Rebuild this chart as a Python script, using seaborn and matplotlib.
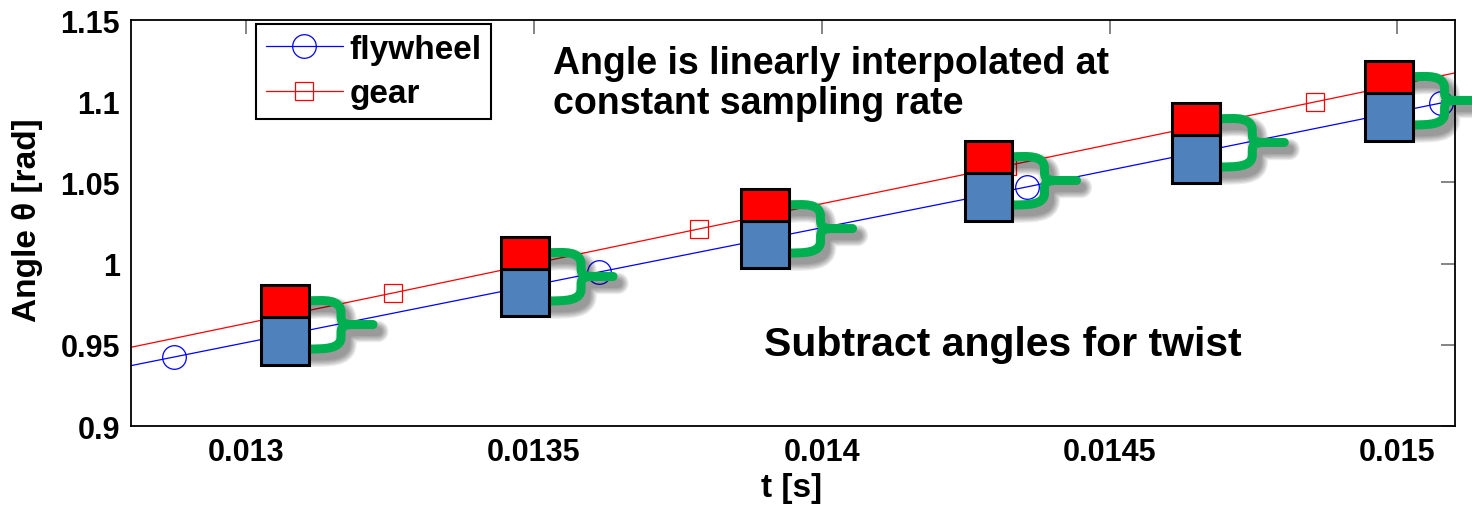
import numpy as np
import pandas as pd
import matplotlib
matplotlib.use("Agg")
import matplotlib.pyplot as plt
import matplotlib.transforms as mtransforms
import matplotlib.patheffects as pe
from matplotlib.path import Path
from matplotlib.patches import PathPatch
import seaborn as sns

# Sampled encoder angles
fly_t = [0.012139, 0.012875, 0.013613, 0.014356, 0.015076, 0.015809]
fly_angle = [0.8902, 0.9425, 0.9948, 1.0472, 1.0989, 1.1510]
gear_t = [0.012720, 0.013255, 0.013786, 0.014321, 0.014856, 0.015391]
gear_angle = [0.9426, 0.9819, 1.0213, 1.0602, 1.0995, 1.1388]

# Interpolated angles at constant sampling instants (stacked blocks)
block_t = [0.013026, 0.013443, 0.013859, 0.014248, 0.014609, 0.014943]
block_gear = [0.9868, 1.0164, 1.0459, 1.0755, 1.0989, 1.1248]
block_fly = [0.9671, 0.9967, 1.0262, 1.0558, 1.0792, 1.1050]
block_base = [0.9376, 0.9677, 0.9973, 1.0262, 1.0496, 1.0755]

x_ticks = [0.013, 0.0135, 0.014, 0.0145, 0.015]
x_tick_labels = ["0.013", "0.0135", "0.014", "0.0145", "0.015"]
y_ticks = [0.9, 0.95, 1.0, 1.05, 1.1, 1.15]
y_tick_labels = ["0.9", "0.95", "1", "1.05", "1.1", "1.15"]

sns.set_style("white")
plt.rcParams["font.family"] = ["Liberation Sans", "DejaVu Sans"]
plt.rcParams["font.weight"] = "bold"
plt.rcParams["text.color"] = "black"
plt.rcParams["axes.labelcolor"] = "black"

W, H = 1472, 510
fig = plt.figure(figsize=(W / 100, H / 100), dpi=100)
ax = fig.add_axes([131 / W, (H - 427) / H, (1455 - 131) / W, (427 - 21) / H])

BLUE = "#0000FF"
RED = "#FF0000"

fly_df = pd.DataFrame({"t": fly_t, "angle": fly_angle})
gear_df = pd.DataFrame({"t": gear_t, "angle": gear_angle})

sns.lineplot(data=fly_df, x="t", y="angle", ax=ax, color=BLUE, linewidth=0.9,
             marker="o", markersize=17, markerfacecolor="none",
             markeredgecolor=BLUE, markeredgewidth=0.9, label="flywheel",
             sort=False, estimator=None, zorder=2)
sns.lineplot(data=gear_df, x="t", y="angle", ax=ax, color=RED, linewidth=0.9,
             marker="s", markersize=13.5, markerfacecolor="none",
             markeredgecolor=RED, markeredgewidth=0.9, label="gear",
             sort=False, estimator=None, zorder=2)

ax.set_xlim(0.0128, 0.0151)
ax.set_ylim(0.9, 1.15)

# Stacked blocks: flywheel (blue) under gear (red)
block_w = 8.33e-5
fly_h = np.array(block_fly) - np.array(block_base)
gear_h = np.array(block_gear) - np.array(block_fly)
ax.bar(block_t, fly_h, bottom=block_base, width=block_w, align="edge",
       color="#4F81BD", edgecolor="black", linewidth=2.2, zorder=4)
ax.bar(block_t, gear_h, bottom=block_fly, width=block_w, align="edge",
       color=RED, edgecolor="black", linewidth=2.2, zorder=4)


# Curly braces marking the difference between the two angles (pixel offsets)
def brace_path():
    h = 47.0
    m = h / 2
    vx = 32
    upper = [(-2, 0),
             (16, -1), (vx, -2), (vx, 12),
             (vx, m - 8),
             (vx, m - 1), (vx + 4, m), (vx + 12, m),
             (64, m)]
    upper_codes = [Path.MOVETO,
                   Path.CURVE4, Path.CURVE4, Path.CURVE4,
                   Path.LINETO,
                   Path.CURVE4, Path.CURVE4, Path.CURVE4,
                   Path.LINETO]
    lower = [(-2, h + 1),
             (16, h + 1), (vx, h + 1), (vx, h - 11),
             (vx, m + 8),
             (vx, m + 1), (vx + 4, m), (vx + 12, m)]
    lower_codes = [Path.MOVETO,
                   Path.CURVE4, Path.CURVE4, Path.CURVE4,
                   Path.LINETO,
                   Path.CURVE4, Path.CURVE4, Path.CURVE4]
    verts = [(x / 100, -y / 100) for x, y in upper + lower]
    return Path(verts, upper_codes + lower_codes)


shadow = [pe.SimpleLineShadow(offset=(3.5, -5), shadow_color="black", alpha=0.08,
                              rho=1.0, linewidth=6.5 + k * 1.8) for k in range(6)]
for t0, top in zip(block_t, block_gear):
    anchor = mtransforms.ScaledTranslation(t0 + block_w, top, ax.transData)
    offset = mtransforms.ScaledTranslation(0, -16 / 100, fig.dpi_scale_trans)
    patch = PathPatch(brace_path(), facecolor="none", edgecolor="#00B050",
                      linewidth=6.5, capstyle="round", joinstyle="round",
                      transform=fig.dpi_scale_trans + offset + anchor,
                      clip_on=False, zorder=3.5)
    patch.set_path_effects(shadow + [pe.Normal()])
    ax.add_patch(patch)

ax.set_xticks(x_ticks)
ax.set_xticklabels(x_tick_labels)
ax.set_yticks(y_ticks)
ax.set_yticklabels(y_tick_labels)
ax.tick_params(axis="both", which="major", direction="in", length=10, width=1.2,
               color="#707070", labelcolor="black", labelsize=22,
               top=True, right=True, pad=8)
for lbl in ax.get_xticklabels() + ax.get_yticklabels():
    lbl.set_fontweight("bold")
for s in ax.spines.values():
    s.set_visible(True)
    s.set_color("black")
    s.set_linewidth(1.3)

ax.set_xlabel("t [s]", fontsize=24, fontweight="bold")
ax.set_ylabel("Angle θ [rad]", fontsize=24, fontweight="bold")
ax.xaxis.set_label_coords(0.499, -0.113)
ax.yaxis.set_label_coords(-0.0665, 0.51)

leg = ax.legend(loc="upper left", bbox_to_anchor=(256 / W, 1 - 25 / H),
                bbox_transform=fig.transFigure, prop={"size": 24, "weight": "bold"},
                frameon=True, fancybox=False, edgecolor="black", framealpha=1,
                handlelength=2.3, handletextpad=0.2, labelspacing=0.4,
                borderpad=0.3, borderaxespad=0)
leg.get_frame().set_linewidth(1.5)
leg.set_zorder(10)

fig.text(553 / W, 1 - 74 / H, "Angle is linearly interpolated at", fontsize=27,
         fontweight="bold", va="baseline", ha="left")
fig.text(553 / W, 1 - 114 / H, "constant sampling rate", fontsize=27,
         fontweight="bold", va="baseline", ha="left")
fig.text(764 / W, 1 - 356 / H, "Subtract angles for twist", fontsize=29.5,
         fontweight="bold", va="baseline", ha="left")

fig.savefig("out.png", dpi=100, facecolor="white")
